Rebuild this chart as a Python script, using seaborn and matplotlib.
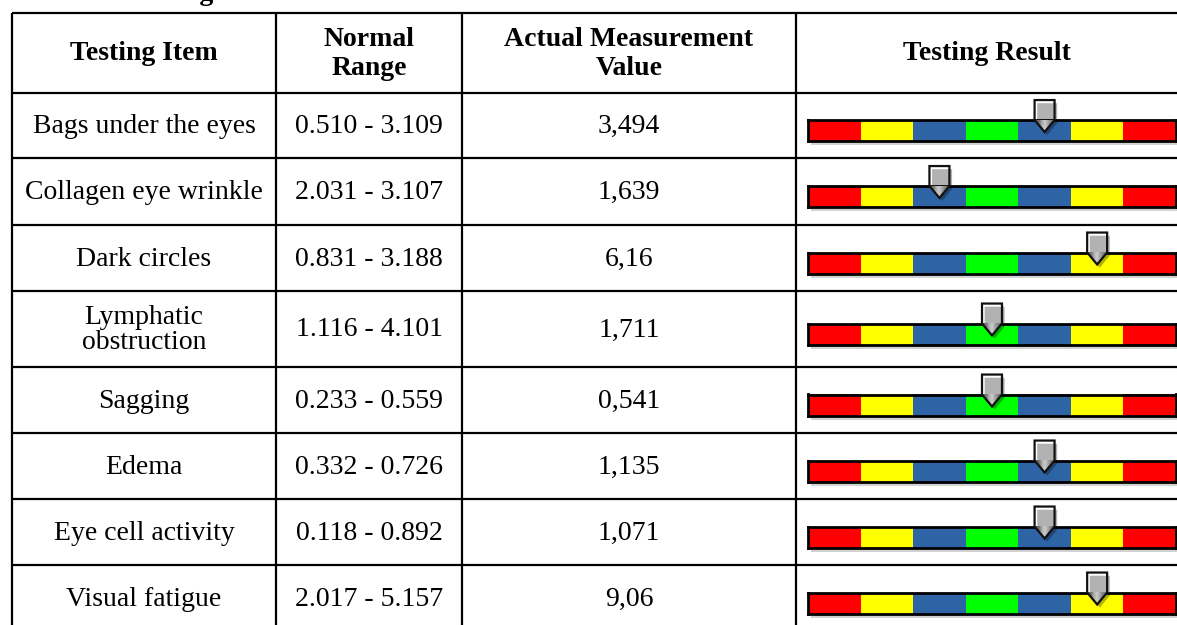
import numpy as np
import matplotlib
matplotlib.use("Agg")
import matplotlib.pyplot as plt
from matplotlib.colors import ListedColormap
from matplotlib.patches import Polygon, Rectangle
import seaborn as sns

# table content
headers = ["Testing Item", "Normal\nRange", "Actual Measurement\nValue", "Testing Result"]
items = ["Bags under the eyes", "Collagen eye wrinkle", "Dark circles",
         "Lymphatic\nobstruction", "Sagging", "Edema", "Eye cell activity",
         "Visual fatigue"]
normal_ranges = ["0.510 - 3.109", "2.031 - 3.107", "0.831 - 3.188", "1.116 - 4.101",
                 "0.233 - 0.559", "0.332 - 0.726", "0.118 - 0.892", "2.017 - 5.157"]
measured = ["3,494", "1,639", "6,16", "1,711", "0,541", "1,135", "1,071", "9,06"]
# which of the 7 scale segments the pointer sits on (0 = far left)
levels = [4, 2, 5, 3, 3, 4, 4, 5]
scale_colors = ["#ff0000", "#ffff00", "#2e64a6", "#00ff00", "#2e64a6", "#ffff00", "#ff0000"]

# layout (pixels)
W, H = 1177, 625
col_edges = [12, 276, 462, 796]
col_centers = [144, 369, 629, 987]
header_top, header_bottom = 13, 93
row_heights = [65, 67, 66, 76, 66, 66, 66, 66]
bar_left, bar_right = 808, 1176
fs = 20

sns.set_theme(style="white")
plt.rcParams['font.family'] = ['Liberation Serif', 'DejaVu Serif']
plt.rcParams['text.color'] = 'black'

fig = plt.figure(figsize=(W / 100, H / 100), dpi=100)
ax = fig.add_axes([0, 0, 1, 1])
ax.set_xlim(0, W)
ax.set_ylim(H, 0)
ax.axis('off')

tops = header_bottom + np.concatenate([[0], np.cumsum(row_heights)])

# grid lines
for y in [header_top, *tops]:
    if y < H:
        ax.plot([col_edges[0], W], [y, y], color='black', lw=1.6, solid_capstyle='butt')
for x in col_edges:
    ax.plot([x, x], [header_top, H], color='black', lw=1.6, solid_capstyle='butt')

# heading above the table, cut off by the image edge as in the source
ax.text(214, 0, "Testing", ha='right', va='baseline', fontsize=fs, fontweight='bold')

# header
for cx, h in zip(col_centers, headers):
    ax.text(cx, (header_top + header_bottom) / 2 + 1, h, ha='center', va='center',
            fontsize=fs, fontweight='bold', linespacing=1.25)

grad = np.array([[0.38, 0.45, 0.68, 0.8, 0.66, 0.52, 0.45]])

for i in range(len(items)):
    top = tops[i]
    rh = row_heights[i]
    yc = top + rh / 2 + 1
    for cx, txt in zip(col_centers[:3], [items[i], normal_ranges[i], measured[i]]):
        ax.text(cx, yc, txt, ha='center', va='center', fontsize=fs, linespacing=1.0)

    # result scale
    b_mid = top + rh / 2 + 5
    b0, b1 = b_mid - 10.5, b_mid + 10.5
    ax.add_patch(Rectangle((bar_left + 3, b1), bar_right - bar_left, 4,
                           color='0.5', alpha=0.35, lw=0))
    bax = fig.add_axes([bar_left / W, 1 - b1 / H, (bar_right - bar_left) / W, (b1 - b0) / H])
    sns.heatmap(np.arange(7)[None, :], cmap=ListedColormap(scale_colors), vmin=-0.5, vmax=6.5,
                cbar=False, xticklabels=False, yticklabels=False, ax=bax)
    for s in bax.spines.values():
        s.set_visible(True)
        s.set_color('black')
        s.set_linewidth(2)

    # pointer
    cx = levels[i] + 0.5
    hw = 0.19
    p_top, p_sh, p_tip = -0.95, 0.0, 0.57
    pts = np.array([(cx - hw, p_top), (cx + hw, p_top), (cx + hw, p_sh),
                    (cx, p_tip), (cx - hw, p_sh)])
    bax.add_patch(Polygon(pts + [0.05, 0.15], closed=True, fc='black', alpha=0.3,
                          lw=0, clip_on=False, zorder=3))
    poly = Polygon(pts, closed=True, fc='none', ec='#111111', lw=1.6,
                   clip_on=False, zorder=5)
    bax.add_patch(poly)
    im = bax.imshow(grad, cmap='gray', vmin=0, vmax=1, aspect='auto',
                    interpolation='bilinear', extent=[cx - hw, cx + hw, p_tip, p_top], zorder=4)
    im.set_clip_path(poly)
    im.set_clip_box(None)
    bax.set_xlim(0, 7)
    bax.set_ylim(1, 0)

fig.savefig('out.png', dpi=100)
